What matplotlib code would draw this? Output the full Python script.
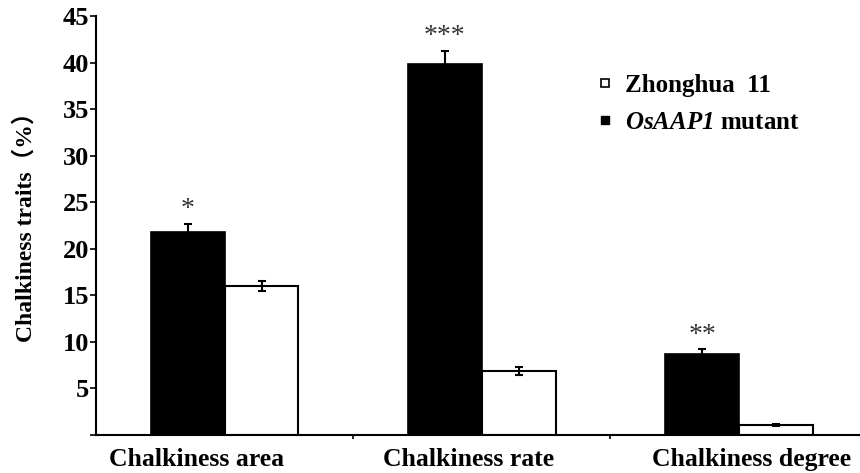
import matplotlib
matplotlib.use("Agg")
import matplotlib.pyplot as plt
from matplotlib.lines import Line2D
import numpy as np

plt.rcParams['font.family'] = ['Liberation Serif', 'Noto Sans CJK SC']
plt.rcParams['font.weight'] = 'bold'
plt.rcParams['mathtext.fontset'] = 'custom'
plt.rcParams['mathtext.rm'] = 'Liberation Serif:bold:italic'
plt.rcParams['mathtext.it'] = 'Liberation Serif:bold:italic'

# data
categories = ["Chalkiness area", "Chalkiness rate", "Chalkiness degree"]
mutant = [21.8, 39.8, 8.7]
mutant_err = [0.9, 1.5, 0.5]
wild = [16.0, 6.9, 1.1]
wild_err = [0.5, 0.4, 0.12]
stars = ["*", "***", "**"]
yticks = [0, 5, 10, 15, 20, 25, 30, 35, 40, 45]

x = np.arange(len(categories))
w = 0.287

fig = plt.figure(figsize=(8.6, 4.73), dpi=100)
ax = fig.add_axes([0.1116, 0.0803, 0.8884, 0.8857])

ax.bar(x - w / 2, mutant, w, color='black', edgecolor='black', linewidth=1.2,
       yerr=mutant_err, error_kw=dict(ecolor='black', elinewidth=1.5, capsize=3, capthick=1.5),
       zorder=2)
ax.bar(x + w / 2, wild, w, color='white', edgecolor='black', linewidth=1.5,
       yerr=wild_err, error_kw=dict(ecolor='black', elinewidth=1.5, capsize=3, capthick=1.5),
       zorder=2)

for xi, v, e, s in zip(x, mutant, mutant_err, stars):
    ax.text(xi - w / 2, v + e + 0.2, s, ha='center', va='bottom',
            fontsize=20, color='#333333', fontweight='normal')

ax.set_xlim(-0.5, 2.47)
ax.set_ylim(0, 45)
ax.set_yticks(yticks)
ax.set_yticklabels([''] + [str(t) for t in yticks[1:]], fontsize=19, fontweight='bold')
ax.tick_params(axis='y', direction='out', length=4, width=1.2, pad=1)

ax.set_xticks([0.5, 1.5])
ax.set_xticklabels([])
ax.tick_params(axis='x', direction='out', length=3, width=1.2)
label_x = [-0.11, 0.95, 2.05]
for lx, c in zip(label_x, categories):
    ax.text(lx, -1.4, c, ha='center', va='top', fontsize=18.5, fontweight='bold')

for side in ['top', 'right']:
    ax.spines[side].set_visible(False)
ax.spines['left'].set_linewidth(1.5)
ax.spines['bottom'].set_linewidth(1.5)

ax.set_ylabel('Chalkiness traits（%）', fontsize=17, fontweight='bold')
ax.yaxis.set_label_coords(-0.078, 0.51)

handles = [
    Line2D([], [], marker='s', linestyle='none', markersize=6,
           markerfacecolor='white', markeredgecolor='black', markeredgewidth=1.2),
    Line2D([], [], marker='s', linestyle='none', markersize=6,
           markerfacecolor='black', markeredgecolor='black'),
]
ax.legend(handles, ['Zhonghua  11', r'$\mathrm{OsAAP1}$ mutant'],
          loc='upper left', bbox_to_anchor=(0.62, 0.915), frameon=False,
          labelspacing=0.55, handletextpad=0.3, handlelength=1.0,
          prop=dict(weight='bold', size=18))

fig.savefig('out.png', dpi=100)
